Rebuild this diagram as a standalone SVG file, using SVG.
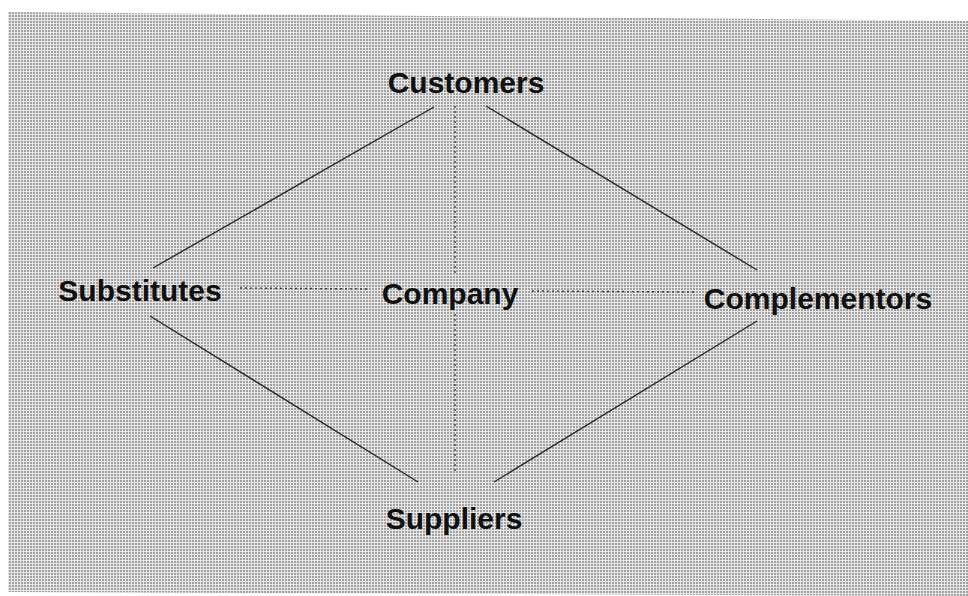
<svg xmlns="http://www.w3.org/2000/svg" width="968" height="596" viewBox="0 0 968 596">
  <defs>
    <!-- halftone screen used for the printed grey page -->
    <pattern id="screen" width="3" height="3" patternUnits="userSpaceOnUse">
      <rect width="3" height="3" fill="#e6e6e6"/>
      <rect width="2" height="2" fill="#a2a2a2"/>
    </pattern>
    <style>
      .label { font-family: "Liberation Sans", Arial, Helvetica, sans-serif; font-weight: bold; font-size: 30px; fill: #111; text-anchor: middle; }
      .solid { stroke: #2a2a2a; stroke-width: 1.4; fill: none; }
      .dotted { stroke: #3a3a3a; stroke-width: 1.4; stroke-dasharray: 2 3; fill: none; }
    </style>
  </defs>

  <!-- page -->
  <rect width="968" height="596" fill="#ffffff"/>
  <polygon points="8,12 968,21 968,596 8,592" fill="url(#screen)"/>

  <!-- connectors -->
  <g id="connectors">
    <line class="solid" x1="434" y1="107" x2="153" y2="268"/>
    <line class="solid" x1="486" y1="106" x2="757" y2="270"/>
    <line class="solid" x1="150" y1="316" x2="418" y2="482"/>
    <line class="solid" x1="494" y1="482" x2="757" y2="321"/>
    <line class="dotted" x1="455" y1="106" x2="455" y2="276"/>
    <line class="dotted" x1="455" y1="314" x2="455" y2="474"/>
    <line class="dotted" x1="240" y1="288" x2="368" y2="289"/>
    <line class="dotted" x1="532" y1="291" x2="696" y2="292"/>
  </g>

  <!-- nodes -->
  <g id="customers"><text class="label" x="466" y="93">Customers</text></g>
  <g id="substitutes"><text class="label" x="140" y="301">Substitutes</text></g>
  <g id="company"><text class="label" x="450" y="304">Company</text></g>
  <g id="complementors"><text class="label" x="818" y="309">Complementors</text></g>
  <g id="suppliers"><text class="label" x="454" y="529">Suppliers</text></g>
</svg>
